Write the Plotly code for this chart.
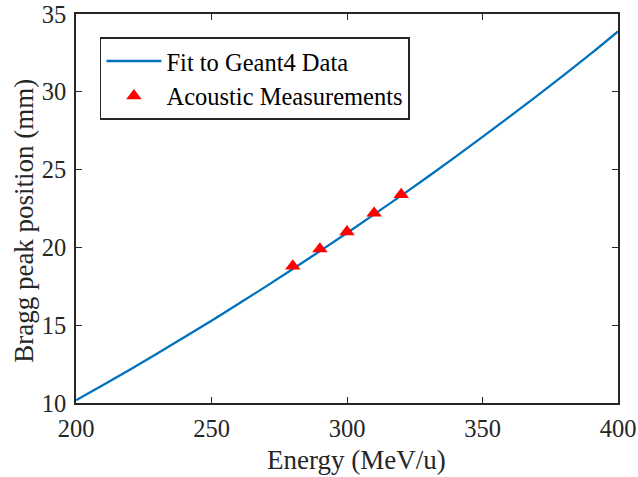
import plotly.graph_objects as go

# Fitted range curve (Geant4) sampled every 10 MeV/u
fit_energy = [200, 210, 220, 230, 240, 250, 260, 270, 280, 290, 300,
              310, 320, 330, 340, 350, 360, 370, 380, 390, 400]
fit_position = [10.18, 11.16, 12.16, 13.18, 14.23, 15.29, 16.38, 17.48, 18.61, 19.76, 20.93,
                22.12, 23.33, 24.56, 25.82, 27.10, 28.40, 29.72, 31.07, 32.45, 33.88]

# Acoustic Bragg peak measurements
meas_energy = [280, 290, 300, 310, 320]
meas_position = [18.8, 19.9, 21.0, 22.2, 23.4]

x_ticks = [200, 250, 300, 350, 400]
y_ticks = [10, 15, 20, 25, 30, 35]

FONT = "Liberation Serif"
INK = "#262626"

fig = go.Figure()
fig.add_trace(go.Scatter(
    x=fit_energy, y=fit_position, mode="lines", name="Fit to Geant4 Data",
    line=dict(color="#0072BD", width=2.3, shape="spline"),
))
fig.add_trace(go.Scatter(
    x=meas_energy, y=meas_position, mode="markers", name="Acoustic Measurements",
    marker=dict(symbol="triangle-up", size=13.5, color="#FF0000", line=dict(width=0)),
))

axis_common = dict(
    showline=True, linecolor=INK, linewidth=1.8, mirror="ticks",
    ticks="inside", ticklen=6.5, tickwidth=1.4, tickcolor=INK,
    showgrid=False, zeroline=False, automargin=False,
    tickfont=dict(family=FONT, size=24.5, color=INK),
)

fig.update_layout(
    width=638, height=477,
    margin=dict(l=76, r=20, t=14, b=74),
    paper_bgcolor="white", plot_bgcolor="white",
    xaxis=dict(range=[200, 400], tickvals=x_ticks, ticklabelstandoff=3, **axis_common),
    yaxis=dict(range=[10, 35], tickvals=y_ticks, ticklabelstandoff=3, **axis_common),
    legend=dict(
        x=0.044, y=0.941, xanchor="left", yanchor="top",
        bgcolor="white", bordercolor=INK, borderwidth=1.6,
        font=dict(family=FONT, size=24.5, color="#000000"),
        itemwidth=55,
    ),
    showlegend=True,
    annotations=[
        dict(text="Energy (MeV/u)", xref="paper", yref="paper",
             x=(356 - 76) / 542, y=-(460 - 403.3) / 389.3,
             xanchor="center", yanchor="middle", showarrow=False,
             font=dict(family=FONT, size=27, color=INK)),
        dict(text="Bragg peak position (mm)", xref="paper", yref="paper",
             x=-(76 - 24) / 542, y=(403.3 - 221) / 389.3, textangle=-90,
             xanchor="center", yanchor="middle", showarrow=False,
             font=dict(family=FONT, size=27, color=INK)),
    ],
)

fig.write_html("out.html")
